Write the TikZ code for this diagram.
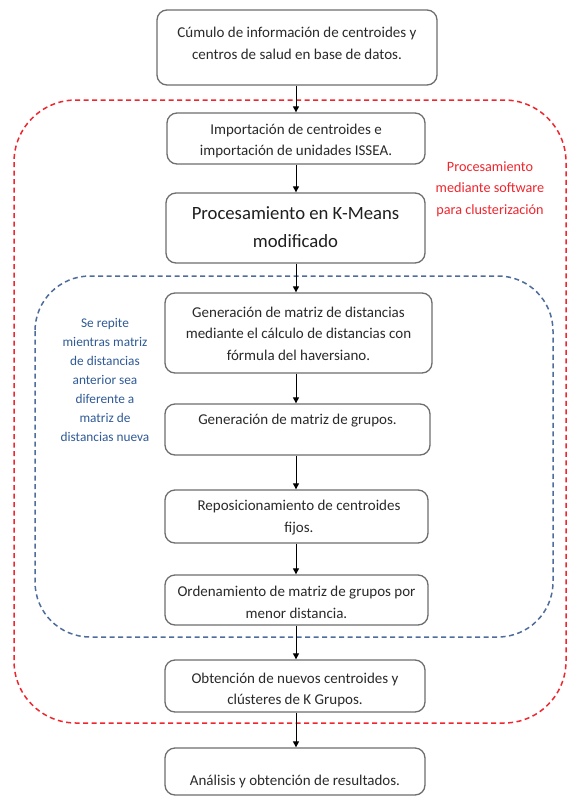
\documentclass[tikz,border=0pt]{standalone}
\usepackage{fontspec}
\setmainfont{Carlito}
\usetikzlibrary{arrows.meta}
\definecolor{boxline}{HTML}{6E6E6E}
\definecolor{txtc}{HTML}{2A2A2A}
\definecolor{redl}{HTML}{F0262E}
\definecolor{bluel}{HTML}{4F6D9C}
\definecolor{bluetxt}{HTML}{2F5A96}
\tikzset{
  box/.style={draw=boxline, line width=1.3pt, rounded corners=10pt, fill=white, inner sep=0pt},
  txt/.style={text=txtc, align=center, inner sep=0pt, font=\fontsize{15}{21.5}\selectfont},
  bigtxt/.style={text=black!88, align=center, inner sep=0pt, font=\fontsize{18.7}{28}\selectfont},
  redtxt/.style={text=redl, align=center, inner sep=0pt, font=\fontsize{14.2}{21.5}\selectfont},
  bluetxtst/.style={text=bluetxt, align=center, inner sep=0pt, font=\fontsize{13.3}{19}\selectfont},
  flow/.style={draw=black, line width=1pt, -{Triangle[length=6pt,width=6pt]}},
  reddash/.style={draw=redl, line width=1.5pt, dash pattern=on 5pt off 3.5pt, rounded corners=62pt},
  bluedash/.style={draw=bluel, line width=1.5pt, dash pattern=on 5pt off 3.5pt, rounded corners=55pt}
}
\begin{document}
\begin{tikzpicture}[x=1pt,y=-1pt]
\useasboundingbox[fill=white] (0,0) rectangle (568,796);
% group frames
\draw[reddash] (14,100) rectangle (566,723);
\draw[bluedash] (35,276) rectangle (553,637);
% boxes
\node[box, minimum width=280pt, minimum height=75pt] (b1) at (297,47.5) {};
\node[box, minimum width=258pt, minimum height=51pt] (b2) at (296,138.5) {};
\node[box, minimum width=259pt, minimum height=70pt] (b3) at (295.5,228) {};
\node[box, minimum width=267pt, minimum height=80pt] (b4) at (298.5,333) {};
\node[box, minimum width=265pt, minimum height=51pt] (b5) at (297.5,429.5) {};
\node[box, minimum width=263pt, minimum height=53pt] (b6) at (296.5,516.5) {};
\node[box, minimum width=263pt, minimum height=50pt] (b7) at (296.5,600) {};
\node[box, minimum width=260pt, minimum height=52pt] (b8) at (295,686) {};
\node[box, minimum width=260pt, minimum height=47pt] (b9) at (295,771.5) {};
% texts
\node[txt] (t1) at (297,43.5) {Cúmulo de información de centroides y\\centros de salud en base de datos.};
\node[txt] (t2) at (296,141) {Importación de centroides e\\importación de unidades ISSEA.};
\node[bigtxt] (t3) at (295.5,227) {Procesamiento en K-Means\\modificado};
\node[txt] (t4) at (298.5,333.5) {Generación de matriz de distancias\\mediante el cálculo de distancias con\\fórmula del haversiano.};
\node[txt] (t5) at (297.5,421) {Generación de matriz de grupos.};
\node[txt] (t6) at (299,517.5) {Reposicionamiento de centroides\\fijos.};
\node[txt] (t7) at (296.5,602.5) {Ordenamiento de matriz de grupos por\\menor distancia.};
\node[txt] (t8) at (295,690) {Obtención de nuevos centroides y\\clústeres de K Grupos.};
\node[txt] (t9) at (295,781) {Análisis y obtención de resultados.};
% side labels
\node[redtxt] (lr) at (490,189) {Procesamiento\\mediante software\\para clusterización};
\node[bluetxtst] (lb) at (105,379.5) {Se repite\\mientras matriz\\de distancias\\anterior sea\\diferente a\\matriz de\\distancias nueva};
% arrows
\draw[flow] (b1.south -| 296,0) -- (b2.north -| 296,0);
\draw[flow] (b2.south -| 296,0) -- (b3.north -| 296,0);
\draw[flow] (b3.south -| 296,0) -- (b4.north -| 296,0);
\draw[flow] (b4.south -| 296,0) -- (b5.north -| 296,0);
\draw[flow] (b5.south -| 296,0) -- (b6.north -| 296,0);
\draw[flow] (b6.south -| 296,0) -- (b7.north -| 296,0);
\draw[flow] (b7.south -| 296,0) -- (b8.north -| 296,0);
\draw[flow] (b8.south -| 296,0) -- (b9.north -| 296,0);
\end{tikzpicture}
\end{document}
